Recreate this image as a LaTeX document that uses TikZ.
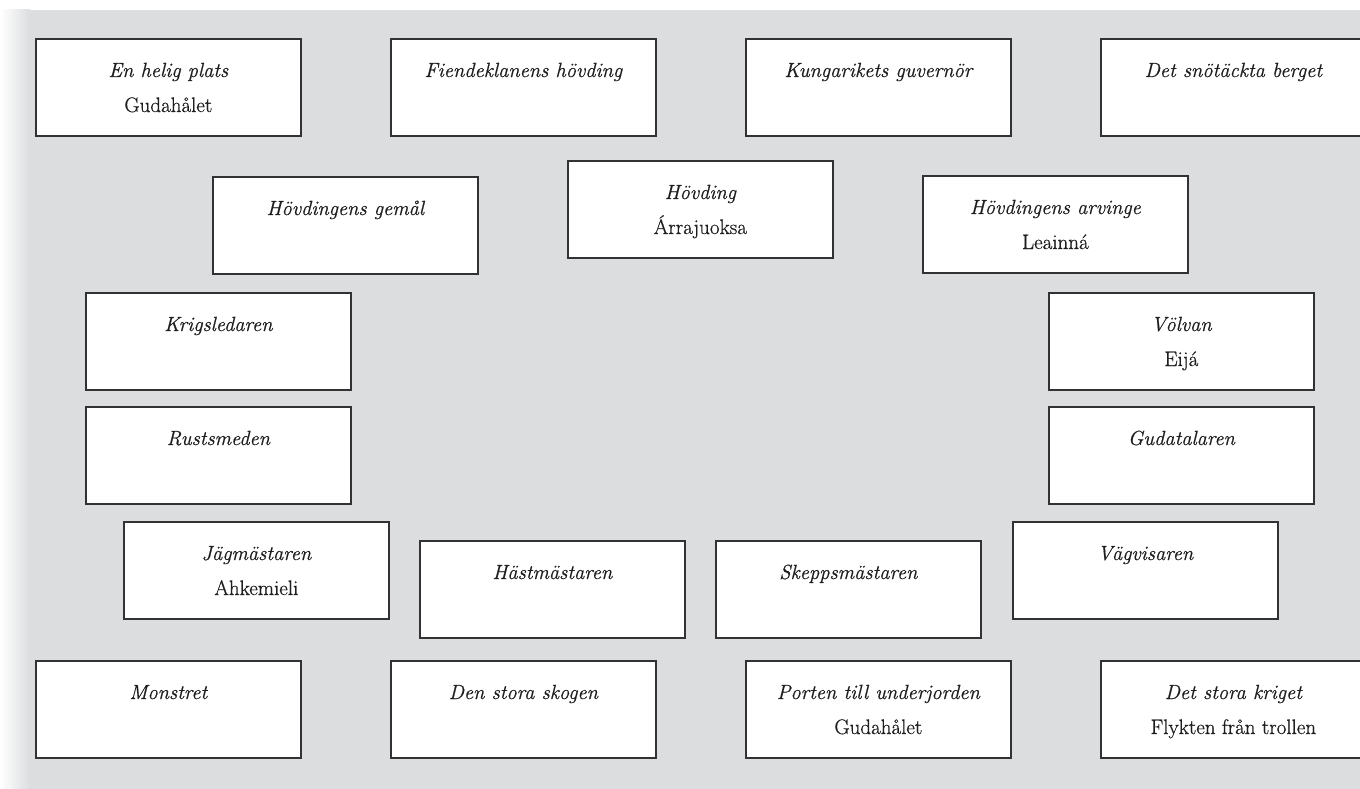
\documentclass[tikz,border=0pt]{standalone}
\usepackage{fontspec}
\newfontfamily\cardfont{Latin Modern Roman}[FakeBold=0.6]
\definecolor{bggray}{RGB}{220,221,223}
\definecolor{edge}{RGB}{50,50,52}
\definecolor{ink}{RGB}{30,30,30}
\tikzset{
  box/.style={draw=edge, line width=1.7pt, fill=white, minimum width=265pt, minimum height=97pt, inner sep=0pt, anchor=north west},
  ttl/.style={font=\cardfont\fontsize{20.5}{24}\selectfont\itshape, text=ink, inner sep=0pt, anchor=base},
  nm/.style={font=\cardfont\fontsize{21}{24}\selectfont, text=ink, inner sep=0pt, anchor=base}
}
\newcommand\kortA[4]{%
  \node[box] (#1) at (#2,#3) {};
  \node[ttl] (#1i) at ([yshift=-39pt]#1.north) {#4};
}
\newcommand\kortB[5]{%
  \node[box] (#1) at (#2,#3) {};
  \node[ttl] (#1i) at ([yshift=-39pt]#1.north) {#4};
  \node[nm] (#1r) at ([yshift=-74pt]#1.north) {#5};
}
\begin{document}
\begin{tikzpicture}[x=1pt,y=-1pt]
\useasboundingbox (0,0) rectangle (1360,789);
\fill[bggray] (0,10) rectangle (1360,789);
\shade[left color=white, right color=bggray] (0,10) rectangle (30,789);
% row 1
\kortB{helig}{35}{38}{En helig plats}{Gudahålet}
\kortA{fiende}{390}{38}{Fiendeklanens hövding}
\kortA{guvernor}{745}{38}{Kungarikets guvernör}
\kortA{berget}{1100}{38}{Det snötäckta berget}
% row 2
\kortA{gemal}{212}{176}{Hövdingens gemål}
\kortB{hovding}{567}{160}{Hövding}{Árrajuoksa}
\kortB{arvinge}{922}{175}{Hövdingens arvinge}{Leainná}
% row 3
\kortA{krig}{85}{292}{Krigsledaren}
\kortB{volvan}{1048}{292}{Völvan}{Eijá}
% row 4
\kortA{rust}{85}{406}{Rustsmeden}
\kortA{gudatal}{1048}{406}{Gudatalaren}
% row 5
\kortB{jag}{123}{521}{Jägmästaren}{Ahkemieli}
\kortA{hast}{419}{540}{Hästmästaren}
\kortA{skepp}{715}{540}{Skeppsmästaren}
\kortA{vag}{1012}{521}{Vägvisaren}
% row 6
\kortA{monster}{35}{660}{Monstret}
\kortA{skogen}{390}{660}{Den stora skogen}
\kortB{porten}{745}{660}{Porten till underjorden}{Gudahålet}
\kortB{kriget}{1100}{660}{Det stora kriget}{Flykten från trollen}
\end{tikzpicture}
\end{document}
